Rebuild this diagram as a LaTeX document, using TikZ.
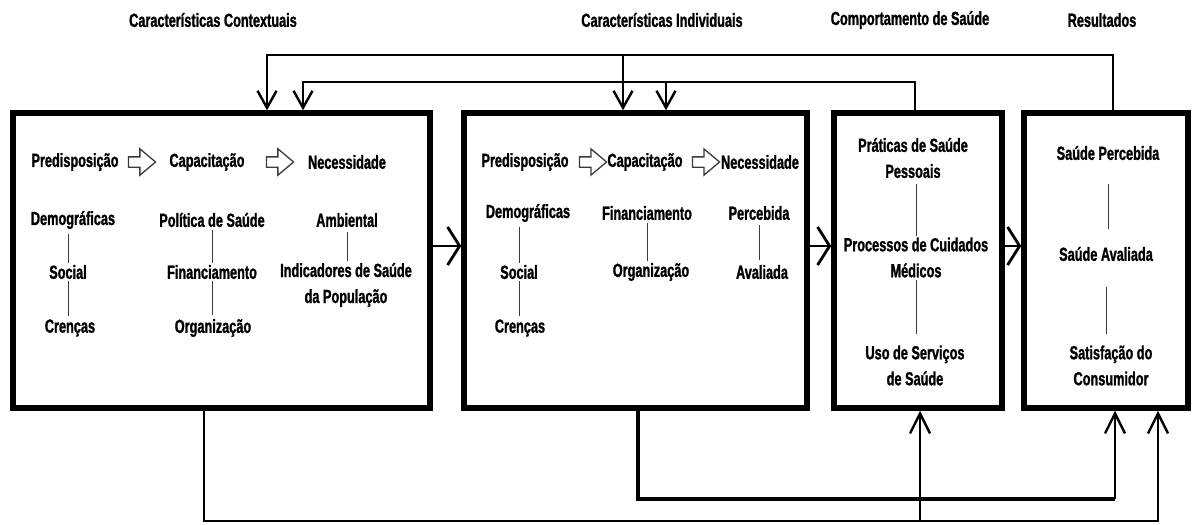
\documentclass[tikz,border=0pt]{standalone}
\usepackage{fontspec}
\setmainfont{Liberation Sans}[FakeStretch=0.67, BoldFeatures={FakeBold=1.2}]
\usetikzlibrary{
  arrows.meta,
  shapes.arrows,
  positioning
}
\definecolor{ink}{HTML}{000000}
\definecolor{muted}{HTML}{3A3A3A}
\definecolor{paper}{HTML}{FFFFFF}

\begin{document}
\begin{tikzpicture}[
  x=1pt, y=-1pt,
  font=\fontsize{19}{26}\selectfont\bfseries,
  stage/.style={
    draw=ink,
    line width=5.5pt,
    fill=paper,
    minimum height=295pt,
    inner sep=0pt
  },
  term/.style={
    inner sep=1.5pt,
    align=center,
    text=ink
  },
  heading/.style={
    term
  },
  hollow/.style={
    single arrow,
    draw=muted,
    line width=1.3pt,
    fill=paper,
    minimum height=27pt,
    minimum width=24pt,
    inner sep=4.5pt,
    single arrow head extend=8pt,
    single arrow tip angle=80
  },
  link/.style={
    draw=muted,
    line width=1pt
  },
  flow/.style={
    -{Straight Barb[length=12pt,width=38pt]},
    line width=2.8pt,
    draw=ink
  },
  feed/.style={
    -{Straight Barb[length=17pt,width=19pt]},
    line width=2.4pt,
    draw=ink
  },
  back/.style={
    -{Straight Barb[length=20pt,width=20pt]},
    line width=2.4pt,
    draw=ink
  }
]
\useasboundingbox (0,0) rectangle (1192,525);

% Column headings
\node[heading] (t-ctx) at (213,20) {Características Contextuais};
\node[heading] (t-ind) at (662,20) {Características Individuais};
\node[heading] (t-beh) at (910,20) {Comportamento de Saúde};
\node[heading] (t-res) at (1102,20) {Resultados};

% Main boxes
\node[stage, minimum width=417pt] (ctx) at (221.5,260.5) {};
\node[stage, minimum width=343pt] (ind) at (635.5,260.5) {};
\node[stage, minimum width=168pt] (behav) at (918,260.5) {};
\node[stage, minimum width=164pt] (outc) at (1106,260.5) {};

% Contextual characteristics
\node[term] (c-pre) at (75,162) {Predisposição};
\node[hollow] (c-arr1) at (139,162) {};
\node[term] (c-cap) at (207,162) {Capacitação};
\node[hollow] (c-arr2) at (277,162) {};
\node[term] (c-nec) at (347,162) {Necessidade};
\node[term] (c-dem) at (73,220) {Demográficas};
\node[term] (c-soc) at (68,272) {Social};
\node[term] (c-cre) at (70,328) {Crenças};
\node[term] (c-pol) at (212,220) {Política de Saúde};
\node[term] (c-fin) at (212,272) {Financiamento};
\node[term] (c-org) at (213,328) {Organização};
\node[term] (c-amb) at (347,220) {Ambiental};
\node[term] (c-ind) at (346,285) {Indicadores de Saúde\\da População};

% Individual characteristics
\node[term] (i-pre) at (525,162) {Predisposição};
\node[hollow] (i-arr1) at (590,162) {};
\node[term] (i-cap) at (645,162) {Capacitação};
\node[hollow] (i-arr2) at (703,162) {};
\node[term] (i-nec) at (760,162) {Necessidade};
\node[term] (i-dem) at (528,213) {Demográficas};
\node[term] (i-soc) at (519,272) {Social};
\node[term] (i-cre) at (520,328) {Crenças};
\node[term] (i-fin) at (647,213) {Financiamento};
\node[term] (i-org) at (651,272) {Organização};
\node[term] (i-per) at (759,213) {Percebida};
\node[term] (i-ava) at (762,272) {Avaliada};

% Health behaviour
\node[term] (b-pra) at (913,158) {Práticas de Saúde\\Pessoais};
\node[term] (b-pro) at (916,257.5) {Processos de Cuidados\\Médicos};
\node[term] (b-uso) at (915,365.5) {Uso de Serviços\\de Saúde};

% Outcomes
\node[term] (o-per) at (1108,153) {Saúde Percebida};
\node[term] (o-ava) at (1106,254) {Saúde Avaliada};
\node[term] (o-sat) at (1111,365.5) {Satisfação do\\Consumidor};

% Thin links inside the boxes
\draw[link, shorten <=3pt] (c-soc.north |- c-dem.south) -- (c-soc.north);
\draw[link, shorten >=2pt] (c-soc.south) -- (c-soc.south |- c-cre.north);
\draw[link, shorten <=1pt] (c-fin.north |- c-pol.south) -- (c-fin.north);
\draw[link, shorten >=2pt] (c-fin.south) -- (c-fin.south |- c-org.north);
\draw[link, shorten <=3pt] (c-amb.south) -- (c-amb.south |- c-ind.north);
\draw[link, shorten <=3pt] (i-soc.north |- i-dem.south) -- (i-soc.north);
\draw[link, shorten >=2pt] (i-soc.south) -- (i-soc.south |- i-cre.north);
\draw[link, shorten <=1pt] (i-fin.south) -- (i-fin.south |- i-org.north);
\draw[link, shorten <=3pt, shorten >=3pt] (i-per.south) -- (i-per.south |- i-ava.north);
\draw[link, shorten <=4pt] (b-pro.north |- b-pra.south) -- (b-pro.north);
\draw[link, shorten <=1pt, shorten >=10pt] (b-pro.south) -- (b-pro.south |- b-uso.north);
\draw[link, shorten <=22pt, shorten >=16pt] (o-per.south) -- (o-per.south |- o-ava.north);
\draw[link, shorten <=24pt, shorten >=10pt] (o-ava.south) -- (o-ava.south |- o-sat.north);

% Flow between the boxes
\coordinate (mid) at (0,246);
\draw[flow] (ctx.east |- mid) -- (ind.west |- mid);
\draw[flow] (ind.east |- mid) -- (behav.west |- mid);
\draw[flow] (behav.east |- mid) -- (outc.west |- mid);

% Feedback over the top
\coordinate (upper) at (0,55);
\coordinate (lower) at (0,82);
\coordinate (ctx-a) at ([xshift=45.5pt]ctx.north);
\coordinate (ctx-b) at ([xshift=81.5pt]ctx.north);
\coordinate (ind-a) at ([xshift=-12.5pt]ind.north);
\coordinate (ind-b) at ([xshift=30.5pt]ind.north);
\draw[feed] ([xshift=7pt]outc.north) |- (ctx-a |- upper) -- (ctx-a);
\draw[feed] (ind-a |- upper) -- (ind-a);
\draw[feed] ([xshift=-3pt]behav.north) |- (ctx-b |- lower) -- (ctx-b);
\draw[feed] (ind-b |- lower) -- (ind-b);

% Feedback underneath
\coordinate (deep) at (0,521);
\coordinate (shallow) at (0,499);
\coordinate (outc-a) at ([xshift=52pt]outc.south);
\coordinate (outc-b) at ([xshift=9pt]outc.south);
\coordinate (behav-a) at ([xshift=2pt]behav.south);
\draw[back] ([xshift=-17.5pt]ctx.south) |- (outc-a |- deep) -- (outc-a);
\draw[back] (behav-a |- deep) -- (behav-a);
\draw[line width=4pt] ([xshift=2.5pt]ind.south) |- (outc-b |- shallow);
\draw[back] (outc-b |- shallow) -- (outc-b);

\end{tikzpicture}
\end{document}
